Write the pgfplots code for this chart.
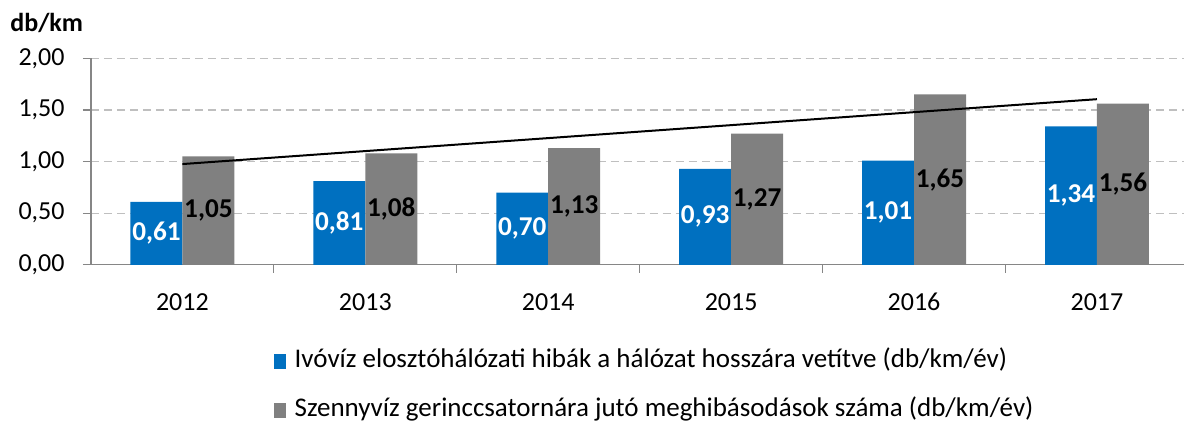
\documentclass[border=0pt]{standalone}
\usepackage{fontspec}
\setmainfont{Carlito}
\usepackage{pgfplots}
\pgfplotsset{compat=1.18}
\definecolor{cblue}{HTML}{0070C0}
\definecolor{cgrey}{HTML}{808080}
\definecolor{caxis}{HTML}{868686}
\definecolor{cgrid}{HTML}{BFBFBF}
\begin{document}
\begin{tikzpicture}
\begin{axis}[
  scale only axis, width=547pt, height=103.35pt,
  xmin=-0.5, xmax=5.478, ymin=0, ymax=2,
  axis x line=bottom, axis y line=left,
  axis line style={-, caxis, line width=0.6pt},
  xtick={0,1,2,3,4,5},
  xticklabels={2012,2013,2014,2015,2016,2017},
  minor xtick={0.5,1.5,2.5,3.5,4.5},
  major x tick style={draw=none},
  ytick={0,0.5,1,1.5,2},
  ymajorgrids,
  grid style={cgrid, dash pattern=on 4pt off 2.5pt, line width=0.6pt},
  tick style={caxis, line width=0.6pt},
  tick align=outside, major tick length=4pt, minor tick length=4pt,
  /pgf/number format/fixed,
  /pgf/number format/fixed zerofill,
  /pgf/number format/precision=2,
  /pgf/number format/use comma,
  /pgf/number format/assume math mode=true,
  tick label style={font=\fontsize{13}{15}\selectfont, inner sep=0pt},
  yticklabel style={anchor=east, xshift=-9pt},
  xticklabel style={anchor=north, yshift=-10pt},
  clip=false,
  legend style={at={(0.1673,-0.41)}, anchor=north west, draw=none, fill=none,
    inner sep=0pt, outer sep=0pt, row sep=12.5pt, column sep=4.5pt,
    font=\fontsize{13.5}{15}\selectfont,
    nodes={inner sep=0pt, text height=9pt, text depth=3pt},
    cells={anchor=west}},
  legend cell align=left,
]
\addlegendimage{legend image code/.code={\fill[cblue] (0pt,-3.5pt) rectangle (5.5pt,3.5pt);}}
\addlegendentry{Ivóvíz elosztóhálózati hibák a hálózat hosszára vetítve (db/km/év)}
\addlegendimage{legend image code/.code={\fill[cgrey] (0pt,-3.5pt) rectangle (5.5pt,3.5pt);}}
\addlegendentry{Szennyvíz gerinccsatornára jutó meghibásodások száma (db/km/év)}

\addplot[forget plot, ybar, bar width=26pt, bar shift=-13pt, fill=cblue, draw=none,
  nodes near coords, point meta=y,
  visualization depends on=rawy\as\rawy,
  every node near coord/.append style={font=\bfseries\fontsize{13.6}{15}\selectfont,
    text=white, anchor=center, inner sep=0pt, xshift=-13pt, shift={(axis direction cs:0,-\rawy/2)}}]
  coordinates {(0,0.61) (1,0.81) (2,0.70) (3,0.93) (4,1.01) (5,1.34)};
\addplot[forget plot, ybar, bar width=26pt, bar shift=13pt, fill=cgrey, draw=none,
  nodes near coords, point meta=y,
  visualization depends on=rawy\as\rawy,
  every node near coord/.append style={font=\bfseries\fontsize{13.6}{15}\selectfont,
    text=black, anchor=center, inner sep=0pt, xshift=13pt, shift={(axis direction cs:0,-\rawy/2)}}]
  coordinates {(0,1.05) (1,1.08) (2,1.13) (3,1.27) (4,1.65) (5,1.56)};
\addplot[forget plot, sharp plot, black, line width=1pt, mark=none]
  coordinates {(0,0.976) (5,1.604)};
\end{axis}
\node[anchor=west, inner sep=0pt, font=\bfseries\fontsize{13}{15}\selectfont] at (-40.5pt,121pt) {db/km};
\path[use as bounding box] (-45.5pt,-80pt) rectangle (547pt,132.5pt);
\end{tikzpicture}
\end{document}
